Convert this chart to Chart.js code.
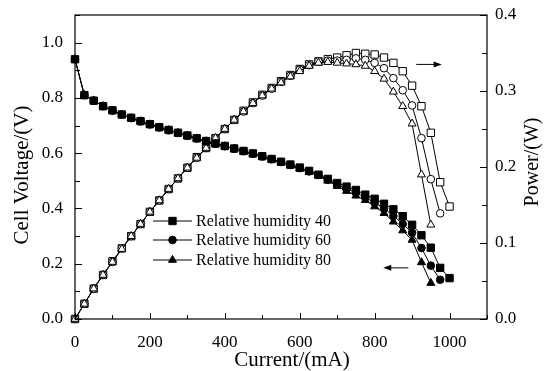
<!DOCTYPE html>
<html lang="en">
<head>
<meta charset="UTF-8">
<title>Cell voltage and power vs current</title>
<style>
  body { margin: 0; background: #fff; }
  #wrap { width: 547px; height: 371px; position: relative; }
</style>
</head>
<body>
<div id="wrap"><canvas id="chart"></canvas></div>
<script src="https://cdn.jsdelivr.net/npm/chart.js@4.4.0/dist/chart.umd.min.js"></script>
<script>
// current (mA), one point every 25 mA
const current = [0, 25, 50, 75, 100, 125, 150, 175, 200, 225, 250, 275, 300, 325, 350, 375, 400,
  425, 450, 475, 500, 525, 550, 575, 600, 625, 650, 675, 700, 725, 750, 775, 800, 825, 850, 875,
  900, 925, 950, 975, 1000];

// cell voltage (V)
const volt40 = [0.94, 0.81, 0.79, 0.77, 0.755, 0.74, 0.728, 0.716, 0.705, 0.694, 0.684, 0.674, 0.664,
  0.654, 0.644, 0.635, 0.626, 0.617, 0.608, 0.599, 0.589, 0.579, 0.569, 0.559, 0.548, 0.536, 0.522,
  0.507, 0.492, 0.479, 0.467, 0.450, 0.435, 0.417, 0.397, 0.372, 0.341, 0.303, 0.258, 0.185, 0.148];
const volt60 = [0.94, 0.81, 0.79, 0.77, 0.754, 0.74, 0.727, 0.715, 0.704, 0.693, 0.683, 0.673, 0.663,
  0.653, 0.643, 0.634, 0.625, 0.616, 0.607, 0.598, 0.588, 0.578, 0.568, 0.557, 0.546, 0.534, 0.521,
  0.504, 0.486, 0.471, 0.457, 0.440, 0.421, 0.400, 0.373, 0.344, 0.312, 0.257, 0.193, 0.142];
const volt80 = [0.94, 0.81, 0.79, 0.77, 0.754, 0.739, 0.727, 0.715, 0.704, 0.693, 0.683, 0.673, 0.663,
  0.653, 0.643, 0.634, 0.625, 0.616, 0.606, 0.597, 0.587, 0.577, 0.566, 0.555, 0.544, 0.532, 0.519,
  0.500, 0.481, 0.463, 0.446, 0.430, 0.407, 0.383, 0.352, 0.320, 0.286, 0.205, 0.130];

// power (W)
const power40 = [0, 0.020, 0.040, 0.058, 0.076, 0.093, 0.109, 0.125, 0.141, 0.156, 0.171, 0.185, 0.199,
  0.213, 0.225, 0.238, 0.250, 0.262, 0.274, 0.285, 0.295, 0.304, 0.313, 0.321, 0.329, 0.335, 0.339,
  0.342, 0.344, 0.347, 0.350, 0.349, 0.348, 0.344, 0.337, 0.326, 0.307, 0.280, 0.245, 0.180, 0.148];
const power60 = [0, 0.020, 0.040, 0.058, 0.075, 0.093, 0.109, 0.125, 0.141, 0.156, 0.171, 0.185, 0.199,
  0.212, 0.225, 0.238, 0.250, 0.262, 0.273, 0.284, 0.294, 0.303, 0.312, 0.320, 0.328, 0.334, 0.339,
  0.340, 0.340, 0.341, 0.343, 0.341, 0.337, 0.330, 0.317, 0.301, 0.281, 0.238, 0.184, 0.139];
const power80 = [0, 0.020, 0.040, 0.058, 0.075, 0.092, 0.109, 0.125, 0.141, 0.156, 0.171, 0.185, 0.199,
  0.212, 0.225, 0.238, 0.250, 0.262, 0.273, 0.284, 0.294, 0.303, 0.311, 0.319, 0.326, 0.333, 0.337,
  0.338, 0.337, 0.336, 0.335, 0.333, 0.326, 0.316, 0.299, 0.280, 0.257, 0.190, 0.124];

const seriesNames = ['Relative humidity 40', 'Relative humidity 60', 'Relative humidity 80'];
const xTicks = [0, 200, 400, 600, 800, 1000];
const yTicks = [0, 0.2, 0.4, 0.6, 0.8, 1.0];
const y2Ticks = [0, 0.1, 0.2, 0.3, 0.4];

const serif = "'Liberation Serif', 'Times New Roman', serif";
const styles = [
  { pointStyle: 'rect', radius: 5.2 },
  { pointStyle: 'circle', radius: 3.8 },
  { pointStyle: 'triangle', radius: 4.6 }
];

function pts(arr) {
  return arr.map((v, i) => ({ x: current[i], y: v }));
}

function series(label, arr, axis, st, filled) {
  return {
    label: label,
    data: pts(arr),
    yAxisID: axis,
    borderColor: '#000',
    borderWidth: 1,
    pointStyle: st.pointStyle,
    pointRadius: st.radius,
    pointBorderWidth: 1,
    pointBorderColor: '#000',
    pointBackgroundColor: filled ? '#000' : '#fff',
    tension: 0,
    clip: 8
  };
}

// triangles first so they end up drawn on top
const datasets = [
  series(seriesNames[2], volt80, 'y', styles[2], true),
  series(seriesNames[1], volt60, 'y', styles[1], true),
  series(seriesNames[0], volt40, 'y', styles[0], true),
  series(seriesNames[2] + ' P', power80, 'y2', styles[2], false),
  series(seriesNames[1] + ' P', power60, 'y2', styles[1], false),
  series(seriesNames[0] + ' P', power40, 'y2', styles[0], false)
];

function arrow(ctx, x1, x2, y) {
  const dir = Math.sign(x2 - x1);
  ctx.beginPath();
  ctx.moveTo(x1, y);
  ctx.lineTo(x2 - dir * 6, y);
  ctx.stroke();
  ctx.beginPath();
  ctx.moveTo(x2, y);
  ctx.lineTo(x2 - dir * 8, y - 3);
  ctx.lineTo(x2 - dir * 8, y + 3);
  ctx.closePath();
  ctx.fill();
}

function noPad(s) {
  s.paddingTop = 0;
  s.paddingBottom = 0;
  s.paddingLeft = 0;
  s.paddingRight = 0;
}

const decor = {
  id: 'decor',
  afterDraw(chart) {
    const { ctx, chartArea: a, scales } = chart;
    const x = scales.x, y = scales.y, y2 = scales.y2;
    ctx.save();
    ctx.strokeStyle = '#000';
    ctx.fillStyle = '#000';
    ctx.lineWidth = 1.2;
    ctx.strokeRect(a.left, a.top, a.right - a.left, a.bottom - a.top);

    // inward tick marks
    ctx.lineWidth = 1;
    ctx.beginPath();
    for (let i = 0; i <= 11; i++) {
      const px = Math.round(x.getPixelForValue(i * 100)) + 0.5;
      const len = i % 2 === 0 ? 6 : 4;
      ctx.moveTo(px, a.bottom);
      ctx.lineTo(px, a.bottom - len);
    }
    for (let i = 0; i <= 11; i++) {
      const py = Math.round(y.getPixelForValue(i / 10)) + 0.5;
      const len = i % 2 === 0 ? 7 : 5;
      ctx.moveTo(a.left, py);
      ctx.lineTo(a.left + len, py);
    }
    for (let i = 0; i <= 8; i++) {
      const py = Math.round(y2.getPixelForValue(i * 0.05)) + 0.5;
      const len = i % 2 === 0 ? 7 : 5;
      ctx.moveTo(a.right, py);
      ctx.lineTo(a.right - len, py);
    }
    ctx.stroke();

    // axis titles
    ctx.textAlign = 'center';
    ctx.textBaseline = 'middle';
    ctx.font = '21px ' + serif;
    ctx.fillText('Current/(mA)', 292, 360);
    ctx.save();
    ctx.translate(22, 175);
    ctx.rotate(-Math.PI / 2);
    ctx.fillText('Cell Voltage/(V)', 0, 0);
    ctx.restore();
    ctx.save();
    ctx.translate(533, 162);
    ctx.rotate(-Math.PI / 2);
    ctx.font = '20px ' + serif;
    ctx.fillText('Power/(W)', 0, 0);
    ctx.restore();

    // arrows pointing to the matching axis
    arrow(ctx, x.getPixelForValue(911), x.getPixelForValue(979), y2.getPixelForValue(0.335));
    arrow(ctx, x.getPixelForValue(890), x.getPixelForValue(823), y.getPixelForValue(0.185));

    // legend
    ctx.font = '16px ' + serif;
    ctx.textAlign = 'left';
    const rows = [221, 240, 260];
    for (let i = 0; i < 3; i++) {
      const ry = rows[i];
      ctx.beginPath();
      ctx.moveTo(153, ry);
      ctx.lineTo(192, ry);
      ctx.stroke();
      Chart.helpers.drawPoint(ctx, { pointStyle: styles[i].pointStyle, radius: styles[i].radius, rotation: 0, borderWidth: 1 }, 172.5, ry);
      ctx.fillText(seriesNames[i], 196, ry + 1);
    }
    ctx.restore();
  }
};

const tickFont = { family: serif, size: 17 };

new Chart(document.getElementById('chart'), {
  type: 'line',
  data: { datasets: datasets },
  options: {
    responsive: true,
    maintainAspectRatio: false,
    animation: false,
    layout: { padding: { top: 15, left: 0, right: 0, bottom: 0 } },
    plugins: { legend: { display: false }, tooltip: { enabled: false } },
    scales: {
      x: {
        type: 'linear', min: 0, max: 1100,
        afterBuildTicks: s => { s.ticks = xTicks.map(v => ({ value: v })); },
        afterFit: s => { s.height = 52; noPad(s); },
        grid: { display: false, drawTicks: false },
        border: { display: false },
        ticks: { color: '#000', font: tickFont, padding: 13, maxRotation: 0, autoSkip: false, callback: v => String(v) }
      },
      y: {
        position: 'left', min: 0, max: 1.1,
        afterBuildTicks: s => { s.ticks = yTicks.map(v => ({ value: v })); },
        afterFit: s => { s.width = 75; noPad(s); },
        grid: { display: false, drawTicks: false },
        border: { display: false },
        ticks: { color: '#000', font: tickFont, padding: 12, autoSkip: false, callback: v => v.toFixed(1) }
      },
      y2: {
        position: 'right', min: 0, max: 0.4,
        afterBuildTicks: s => { s.ticks = y2Ticks.map(v => ({ value: v })); },
        afterFit: s => { s.width = 60; noPad(s); },
        grid: { display: false, drawTicks: false },
        border: { display: false },
        ticks: { color: '#000', font: tickFont, padding: 8, autoSkip: false, callback: v => v.toFixed(1) }
      }
    }
  },
  plugins: [decor]
});
</script>
</body>
</html>
